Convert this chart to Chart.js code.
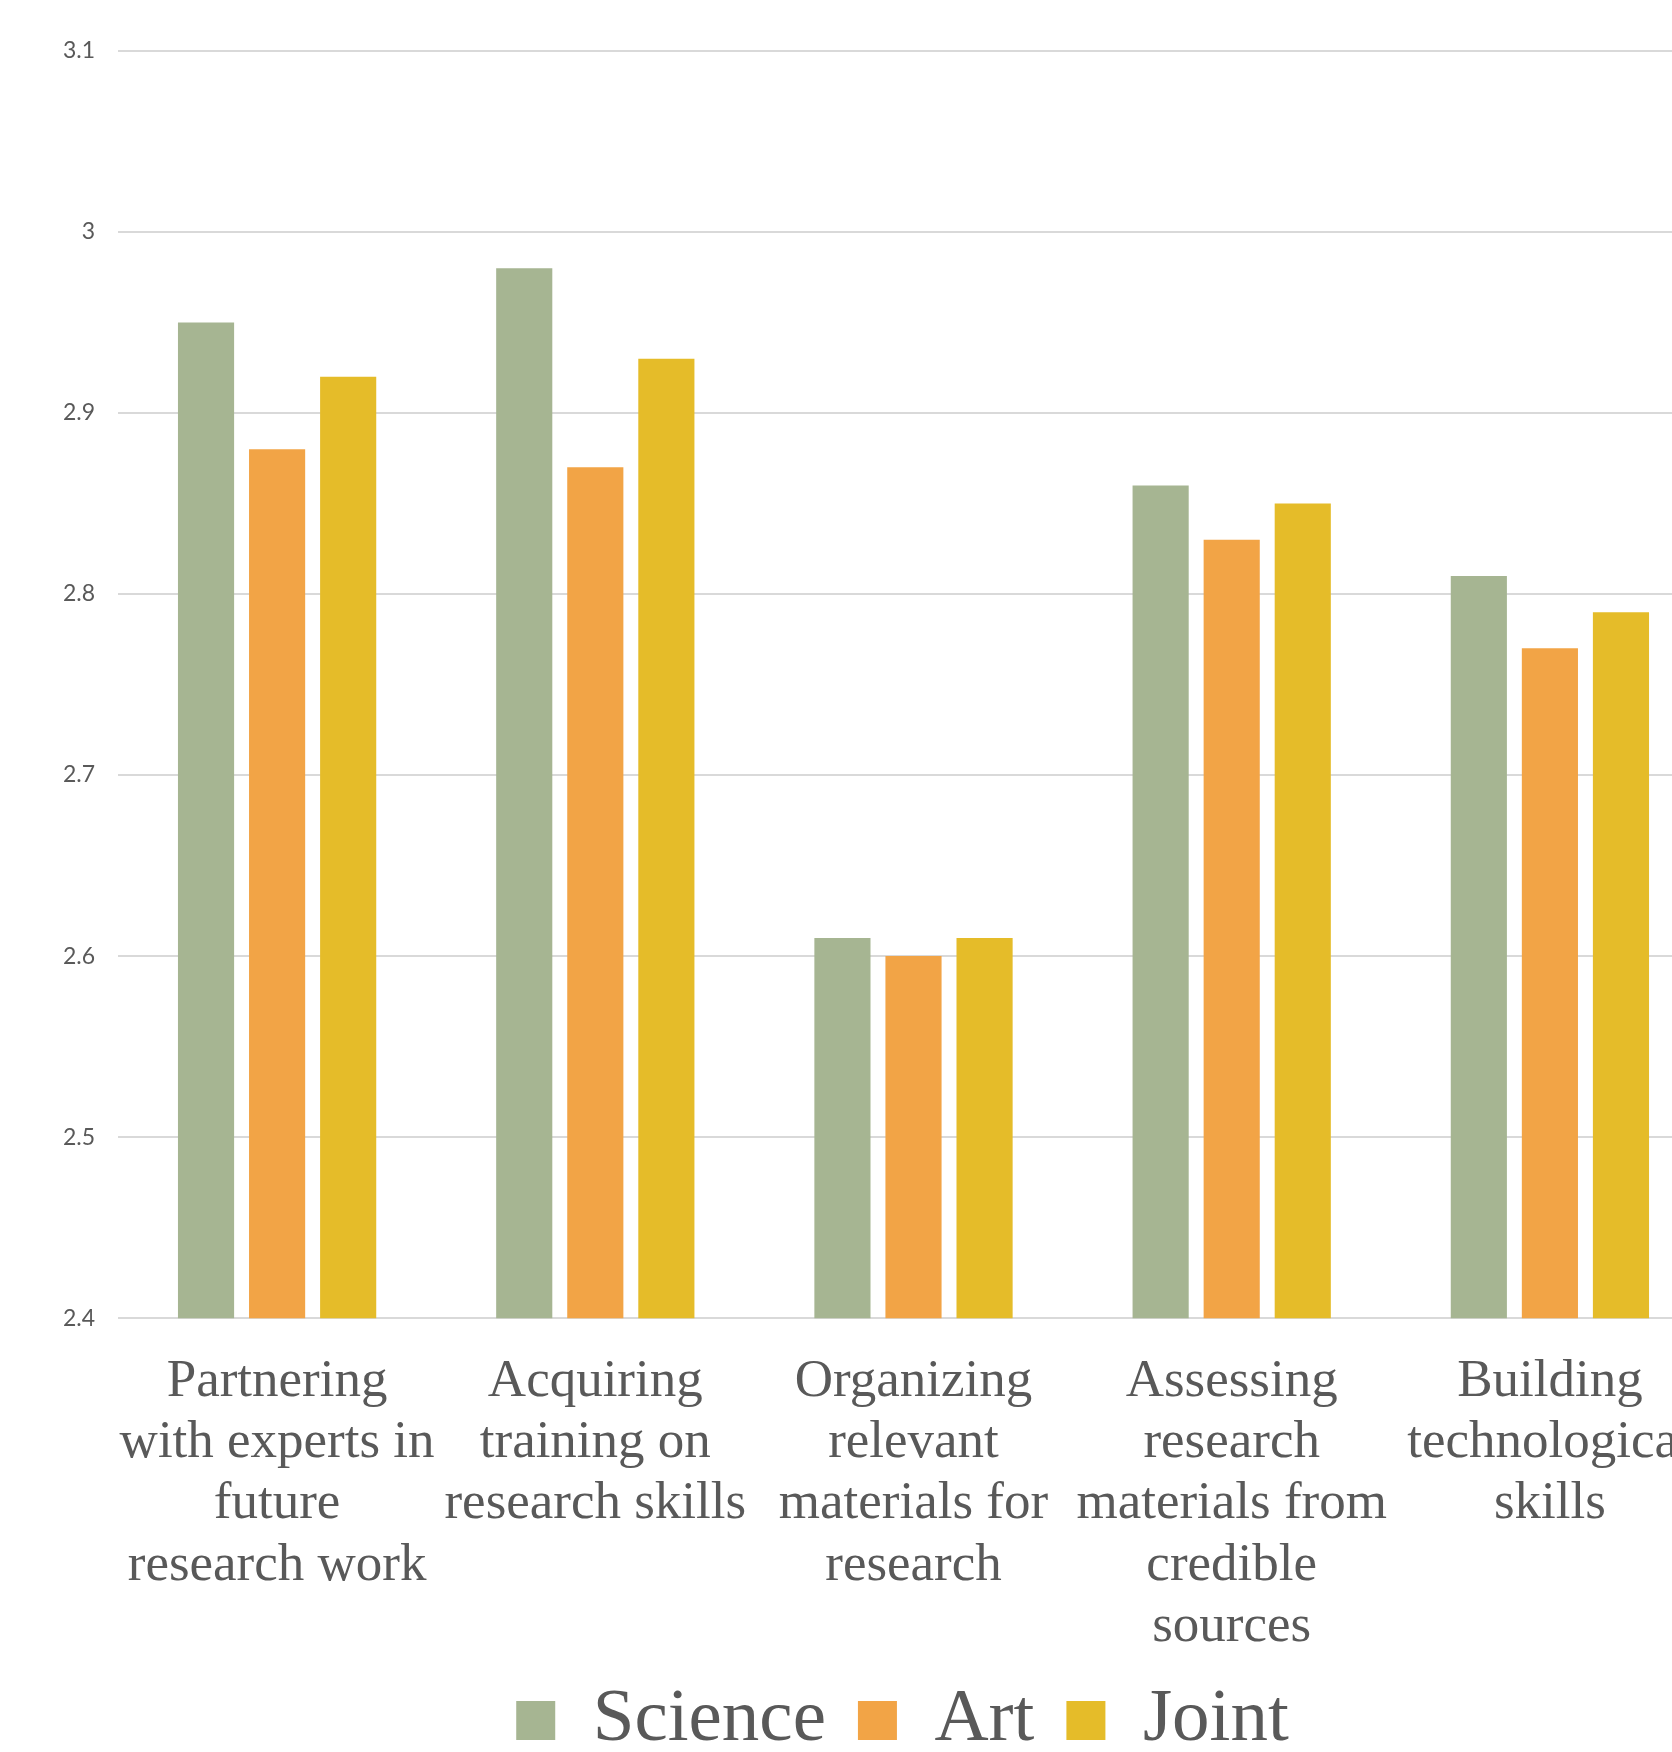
<!DOCTYPE html>
<html>
<head>
<meta charset="utf-8">
<script src="https://cdn.jsdelivr.net/npm/chart.js@4.4.1/dist/chart.umd.min.js"></script>
<style>
  html, body { margin: 0; padding: 0; background: #fff; overflow: hidden; }
  #wrap { width: 1805px; height: 1768px; position: relative; }
</style>
</head>
<body>
<div id="wrap"><canvas id="skillsChart"></canvas></div>
<script>
"use strict";

// categories (already split into the lines shown under each group)
var categories = [
  ["Partnering", "with experts in", "future", "research work"],
  ["Acquiring", "training on", "research skills"],
  ["Organizing", "relevant", "materials for", "research"],
  ["Assessing", "research", "materials from", "credible", "sources"],
  ["Building", "technological", "skills"]
];

var scienceValues = [2.95, 2.98, 2.61, 2.86, 2.81];
var artValues     = [2.88, 2.87, 2.60, 2.83, 2.77];
var jointValues   = [2.92, 2.93, 2.61, 2.85, 2.79];

var seriesNames = ["Science", "Art", "Joint"];

var yMin = 2.4;
var yMax = 3.1;
var yStep = 0.1;

var textColor = '#595959';
var serif = '"Liberation Serif", "Times New Roman", serif';

var ctx = document.getElementById('skillsChart').getContext('2d');
var skillsChart = new Chart(ctx, {
  type: 'bar',
  data: {
    labels: categories,
    datasets: [{
      label: seriesNames[0],
      data: scienceValues,
      backgroundColor: '#a6b592'
    }, {
      label: seriesNames[1],
      data: artValues,
      backgroundColor: '#f2a446'
    }, {
      label: seriesNames[2],
      data: jointValues,
      backgroundColor: '#e5bc29'
    }]
  },
  options: {
    responsive: true,
    maintainAspectRatio: false,
    animation: false,
    datasets: {
      bar: {
        categoryPercentage: 0.67,
        barPercentage: 0.79
      }
    },
    layout: {
      padding: { left: 40, right: 40, top: 51, bottom: 0 }
    },
    plugins: {
      tooltip: { enabled: false },
      legend: {
        position: 'bottom',
        labels: {
          color: textColor,
          font: { family: serif, size: 75 },
          boxWidth: 39,
          boxHeight: 39,
          padding: 32
        }
      }
    },
    scales: {
      x: {
        grid: { display: false, drawTicks: false },
        border: { display: false },
        ticks: {
          color: textColor,
          font: { family: serif, size: 53, lineHeight: 1.158 },
          padding: 33,
          maxRotation: 0,
          minRotation: 0,
          autoSkip: false
        },
        // labels may run into the legend gap, as in the original
        afterFit: function (scale) {
          scale.height = scale.height - 40;
        }
      },
      y: {
        min: yMin,
        max: yMax,
        grid: { color: '#d9d9d9', lineWidth: 2, drawTicks: false },
        border: { display: false },
        ticks: {
          stepSize: yStep,
          color: textColor,
          font: { family: 'Lato, "Open Sans", sans-serif', size: 23 },
          padding: 23,
          callback: function (value) {
            return String(Math.round(value * 10) / 10);
          }
        },
        afterFit: function (scale) {
          scale.width = 78;
        }
      },
      // empty strip on the right so the legend sits where it did
      spacer: {
        position: 'right',
        grid: { display: false },
        border: { display: false },
        ticks: { display: false },
        afterFit: function (scale) {
          scale.width = 56;
        }
      }
    }
  }
});
</script>
</body>
</html>
